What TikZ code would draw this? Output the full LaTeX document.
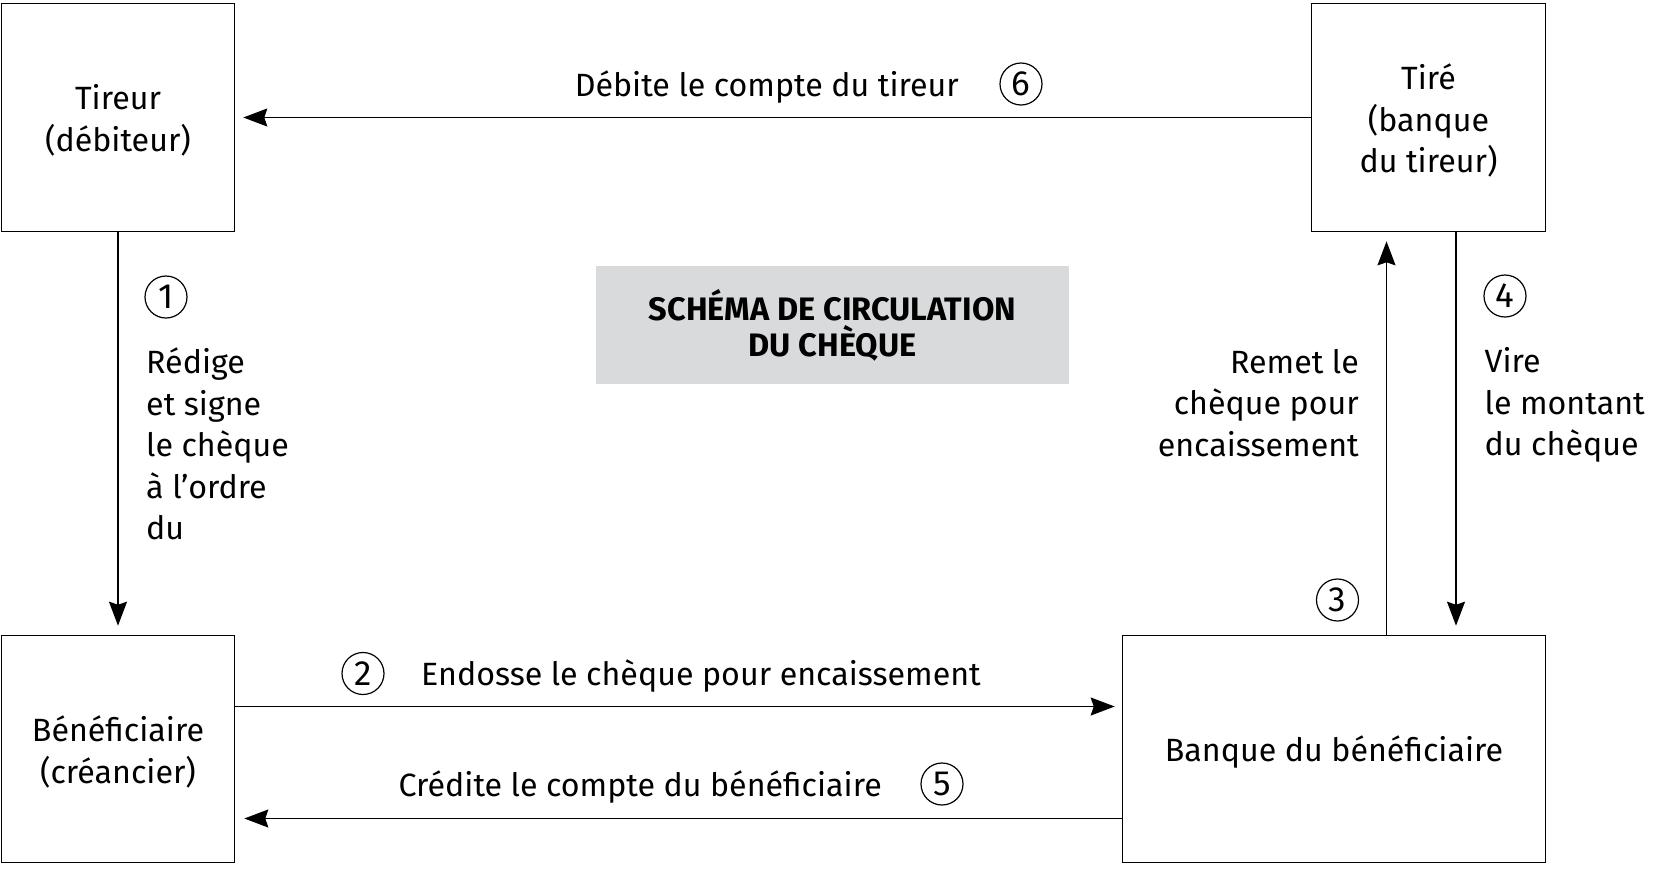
\documentclass[tikz,border=0pt]{standalone}
\usepackage{fontspec}
\setmainfont{Fira Sans}
\usetikzlibrary{arrows.meta}
\definecolor{titregris}{RGB}{217,218,220}
\tikzset{
  boite/.style={draw, line width=1.6pt, inner sep=0pt},
  texte/.style={align=center, yshift=-3pt},
  fleche/.style={line width=1.3pt, -{Stealth[length=24pt,width=18pt,inset=3pt]}},
  rond/.style={draw, circle, line width=1.2pt, minimum size=42pt, inner sep=0pt,
               font=\fontsize{35}{35}\selectfont},
}
\begin{document}
\begin{tikzpicture}[x=1pt, y=-1pt, font=\fontsize{32.2}{41.6}\selectfont]
      \useasboundingbox (0,0) rectangle (1671,868);

      % les quatre acteurs
      \node[boite, minimum width=233pt, minimum height=228pt,
            label={[texte]center:Tireur\\(débiteur)}] (tireur) at (118, 117.5) {};
      \node[boite, minimum width=234pt, minimum height=228pt,
            label={[texte]center:Tiré\\(banque\\du tireur)}] (tire) at (1428.5, 117.5) {};
      \node[boite, minimum width=233pt, minimum height=227pt,
            label={[texte]center:Bénéficiaire\\(créancier)}] (benef) at (118, 749) {};
      \node[boite, minimum width=423pt, minimum height=227pt,
            label={[texte]center:Banque du bénéficiaire}] (banque) at (1334, 749) {};

      \node[fill=titregris, minimum width=473pt, minimum height=118pt, align=center,
            font=\fontsize{32.5}{36}\selectfont\bfseries] (titre) at (832.5, 325)
            {SCHÉMA DE CIRCULATION\\DU CHÈQUE};

      % flux
      \draw[fleche, shorten >=9pt] (tireur.south) -- (benef.north);
      \draw[fleche, shorten >=7pt] ([yshift=42.5pt]benef.east) -- ([yshift=42.5pt]banque.west);
      \draw[fleche, shorten >=9pt] ([yshift=-69.5pt]banque.west) -- ([yshift=-69.5pt]benef.east);
      \draw[fleche, shorten >=9pt] ([xshift=-42pt]tire.south |- banque.north) --
            ([xshift=-42pt]tire.south);
      \draw[fleche, shorten >=9pt] ([xshift=27.5pt]tire.south) --
            ([xshift=27.5pt]tire.south |- banque.north);
      \draw[fleche, shorten >=8pt] (tire.west) -- (tireur.east);

      % numeros
      \node[rond] (n1) at (166, 297) {1};
      \node[rond] (n2) at (363, 673.5) {2};
      \node[rond] (n3) at (1337.5, 600) {3};
      \node[rond] (n4) at (1505, 296) {4};
      \node[rond] (n5) at (942, 784) {5};
      \node[rond] (n6) at (1021, 84) {6};

      % textes
      \node[anchor=west, align=left, inner sep=0pt] (l1) at (146, 444)
            {Rédige\\et signe\\le chèque\\à l’ordre\\du};
      \node[anchor=west, inner sep=0pt] (l2) at (421, 676.5)
            {Endosse le chèque pour encaissement};
      \node[anchor=east, align=right, inner sep=0pt] (l3) at (1359, 403)
            {Remet le\\chèque pour\\encaissement};
      \node[anchor=west, align=left, inner sep=0pt] (l4) at (1484.5, 405)
            {Vire\\le montant\\du chèque};
      \node[anchor=east, inner sep=0pt] (l5) at (882, 787)
            {Crédite le compte du bénéficiaire};
      \node[anchor=east, inner sep=0pt] (l6) at (959, 87)
            {Débite le compte du tireur};
    \end{tikzpicture}
\end{document}
